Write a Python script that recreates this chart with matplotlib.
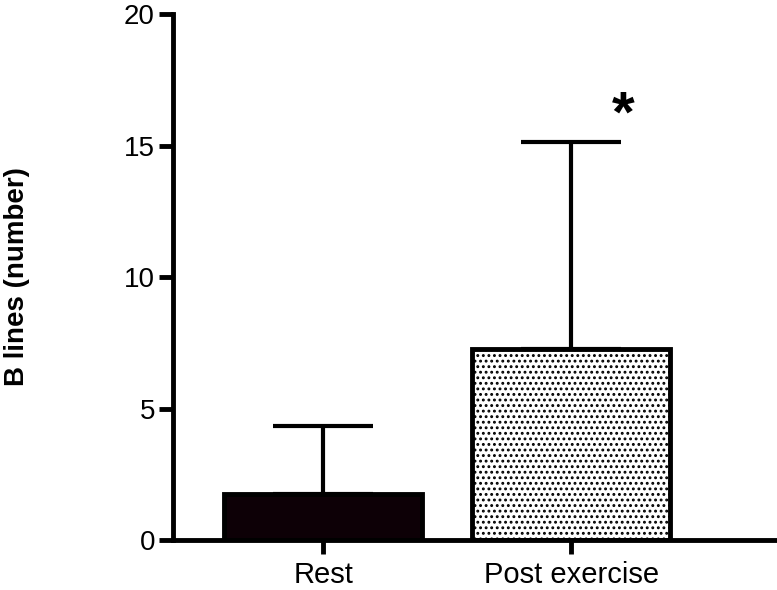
import matplotlib
matplotlib.use('Agg')
import matplotlib.pyplot as plt

# Data
groups = ['Rest', 'Post exercise']
means = [1.75, 7.25]
sd_upper = [2.6, 7.9]

plt.rcParams['font.family'] = ['Liberation Sans', 'DejaVu Sans']
plt.rcParams['hatch.linewidth'] = 1.3

fig = plt.figure(figsize=(7.77, 5.90), dpi=100)
ax = fig.add_axes([0.2227, 0.0847, 0.7773, 0.8915])

x = [0, 1]
ax.bar(x[0], means[0], width=0.8, color='#0d0006', edgecolor='black', linewidth=3.5, zorder=2)
ax.bar(x[1], means[1], width=0.8, color='white', edgecolor='black', linewidth=3.5,
       hatch='...', zorder=2)
ax.errorbar(x, means, yerr=[[0, 0], sd_upper], fmt='none', ecolor='black',
            elinewidth=3, capsize=36, capthick=3, zorder=1)

# significance marker
ax.text(1.21, 16.1, '*', ha='center', va='center', fontsize=42, fontweight='bold')

ax.set_xlim(-0.605, 1.83)
ax.set_ylim(0, 20)
ax.set_yticks([0, 5, 10, 15, 20])
ax.set_xticks(x)
ax.set_xticklabels(groups)

for s in ['top', 'right']:
    ax.spines[s].set_visible(False)
for s in ['left', 'bottom']:
    ax.spines[s].set_linewidth(3.5)
ax.tick_params(axis='y', width=3.5, length=10, labelsize=20, direction='out', pad=3)
ax.tick_params(axis='x', width=3.5, length=10, labelsize=21, direction='out', pad=5)
ax.set_ylabel('B lines (number)', fontsize=20, fontweight='bold', labelpad=68)

fig.savefig('out.png', dpi=100)
